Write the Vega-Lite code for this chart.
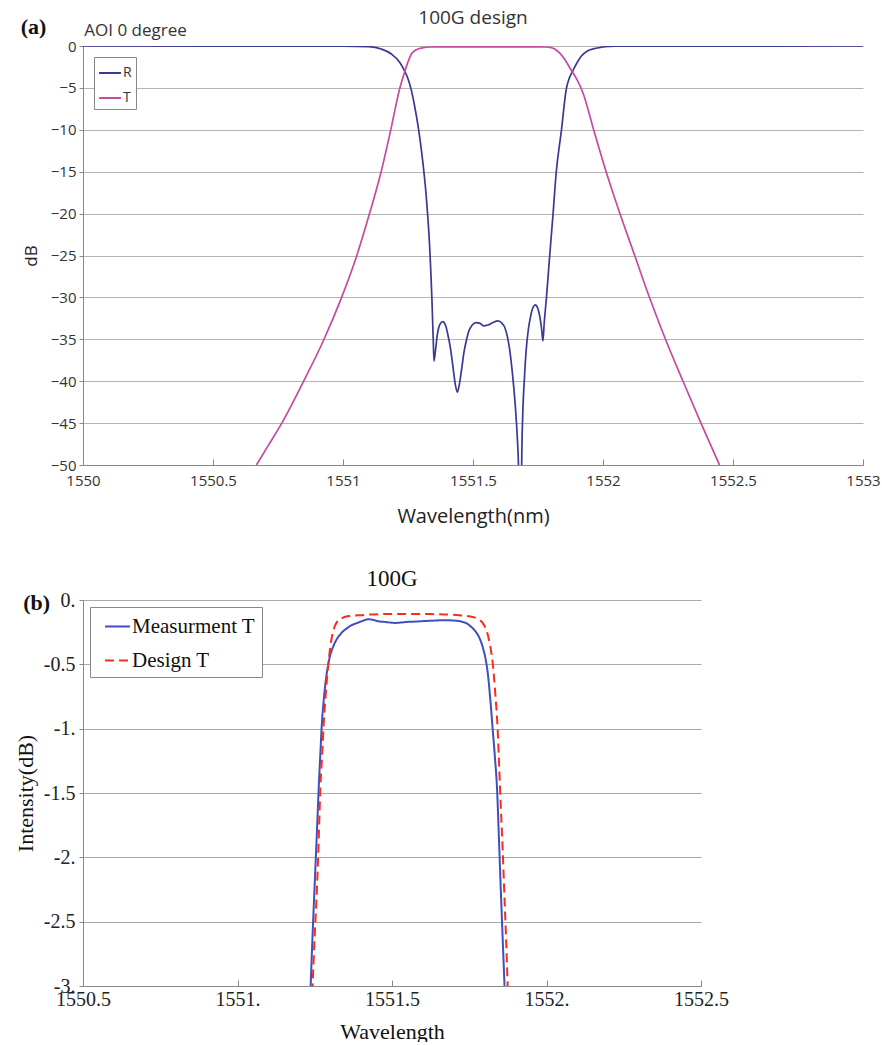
{
  "$schema": "https://vega.github.io/schema/vega-lite/v6.json",
  "background": "white",
  "padding": {"left": 14, "top": 8, "right": 5, "bottom": 0},
  "config": {"view": {"stroke": null}, "concat": {"spacing": 42}},
  "resolve": {"scale": {"color": "independent", "strokeDash": "independent"}},
  "datasets": {
    "a": [
      {"s": "R", "wl": 1550.0, "db": 0},
      {"s": "R", "wl": 1551.0, "db": -0.02},
      {"s": "R", "wl": 1551.1, "db": -0.08},
      {"s": "R", "wl": 1551.147, "db": -0.36},
      {"s": "R", "wl": 1551.186, "db": -0.95},
      {"s": "R", "wl": 1551.218, "db": -1.95},
      {"s": "R", "wl": 1551.237, "db": -3.0},
      {"s": "R", "wl": 1551.25, "db": -3.9},
      {"s": "R", "wl": 1551.263, "db": -5.3},
      {"s": "R", "wl": 1551.275, "db": -7.1},
      {"s": "R", "wl": 1551.289, "db": -9.6},
      {"s": "R", "wl": 1551.301, "db": -12.3},
      {"s": "R", "wl": 1551.32, "db": -17.9},
      {"s": "R", "wl": 1551.333, "db": -23.8},
      {"s": "R", "wl": 1551.342, "db": -30.2},
      {"s": "R", "wl": 1551.347, "db": -35},
      {"s": "R", "wl": 1551.35, "db": -37.6},
      {"s": "R", "wl": 1551.355, "db": -36.5},
      {"s": "R", "wl": 1551.363, "db": -34.4},
      {"s": "R", "wl": 1551.373, "db": -33.2},
      {"s": "R", "wl": 1551.384, "db": -32.9},
      {"s": "R", "wl": 1551.394, "db": -33.3},
      {"s": "R", "wl": 1551.403, "db": -34.4},
      {"s": "R", "wl": 1551.414, "db": -36.2},
      {"s": "R", "wl": 1551.423, "db": -38.3},
      {"s": "R", "wl": 1551.432, "db": -40.4},
      {"s": "R", "wl": 1551.44, "db": -41.3},
      {"s": "R", "wl": 1551.448, "db": -40.3},
      {"s": "R", "wl": 1551.457, "db": -38.4},
      {"s": "R", "wl": 1551.465, "db": -36.6},
      {"s": "R", "wl": 1551.474, "db": -35.2},
      {"s": "R", "wl": 1551.484, "db": -34.0},
      {"s": "R", "wl": 1551.497, "db": -33.3},
      {"s": "R", "wl": 1551.512, "db": -33.0},
      {"s": "R", "wl": 1551.527, "db": -33.1},
      {"s": "R", "wl": 1551.542, "db": -33.4},
      {"s": "R", "wl": 1551.557, "db": -33.3},
      {"s": "R", "wl": 1551.577, "db": -33.0},
      {"s": "R", "wl": 1551.595, "db": -32.8},
      {"s": "R", "wl": 1551.609, "db": -33.0},
      {"s": "R", "wl": 1551.621, "db": -33.5},
      {"s": "R", "wl": 1551.631, "db": -34.5},
      {"s": "R", "wl": 1551.64, "db": -36.0},
      {"s": "R", "wl": 1551.649, "db": -38.3},
      {"s": "R", "wl": 1551.657, "db": -40.8},
      {"s": "R", "wl": 1551.664, "db": -43.5},
      {"s": "R", "wl": 1551.67, "db": -46.5},
      {"s": "R", "wl": 1551.675, "db": -50},
      {"s": "R", "wl": 1551.68, "db": -58},
      {"s": "R", "wl": 1551.685, "db": -55},
      {"s": "R", "wl": 1551.688, "db": -48},
      {"s": "R", "wl": 1551.692, "db": -43.3},
      {"s": "R", "wl": 1551.698, "db": -39.5},
      {"s": "R", "wl": 1551.704, "db": -36.5},
      {"s": "R", "wl": 1551.713, "db": -33.8},
      {"s": "R", "wl": 1551.722, "db": -32.2},
      {"s": "R", "wl": 1551.731, "db": -31.2},
      {"s": "R", "wl": 1551.74, "db": -30.9},
      {"s": "R", "wl": 1551.749, "db": -31.3},
      {"s": "R", "wl": 1551.757, "db": -32.3},
      {"s": "R", "wl": 1551.764, "db": -33.8},
      {"s": "R", "wl": 1551.769, "db": -35.2},
      {"s": "R", "wl": 1551.774, "db": -33.0},
      {"s": "R", "wl": 1551.782, "db": -30.2},
      {"s": "R", "wl": 1551.795, "db": -25},
      {"s": "R", "wl": 1551.808, "db": -20},
      {"s": "R", "wl": 1551.82, "db": -15.1},
      {"s": "R", "wl": 1551.84, "db": -10.1},
      {"s": "R", "wl": 1551.859, "db": -5.1},
      {"s": "R", "wl": 1551.871, "db": -3.8},
      {"s": "R", "wl": 1551.885, "db": -2.9},
      {"s": "R", "wl": 1551.9, "db": -2.0},
      {"s": "R", "wl": 1551.917, "db": -1.2},
      {"s": "R", "wl": 1551.94, "db": -0.6},
      {"s": "R", "wl": 1551.968, "db": -0.3},
      {"s": "R", "wl": 1552.045, "db": -0.03},
      {"s": "R", "wl": 1553.0, "db": 0},
      {"s": "T", "wl": 1550.667, "db": -50},
      {"s": "T", "wl": 1550.714, "db": -47.6},
      {"s": "T", "wl": 1550.763, "db": -45.1},
      {"s": "T", "wl": 1550.847, "db": -40.1},
      {"s": "T", "wl": 1550.924, "db": -35.2},
      {"s": "T", "wl": 1550.992, "db": -30.2},
      {"s": "T", "wl": 1551.051, "db": -25.2},
      {"s": "T", "wl": 1551.102, "db": -20.0},
      {"s": "T", "wl": 1551.146, "db": -15.1},
      {"s": "T", "wl": 1551.183, "db": -10.1},
      {"s": "T", "wl": 1551.218, "db": -5.1},
      {"s": "T", "wl": 1551.237, "db": -3.1},
      {"s": "T", "wl": 1551.25, "db": -1.9},
      {"s": "T", "wl": 1551.263, "db": -0.95},
      {"s": "T", "wl": 1551.28, "db": -0.48},
      {"s": "T", "wl": 1551.301, "db": -0.25},
      {"s": "T", "wl": 1551.34, "db": -0.12},
      {"s": "T", "wl": 1551.45, "db": -0.1},
      {"s": "T", "wl": 1551.72, "db": -0.1},
      {"s": "T", "wl": 1551.78, "db": -0.12},
      {"s": "T", "wl": 1551.8, "db": -0.2},
      {"s": "T", "wl": 1551.814, "db": -0.35},
      {"s": "T", "wl": 1551.832, "db": -0.8},
      {"s": "T", "wl": 1551.852, "db": -1.55},
      {"s": "T", "wl": 1551.878, "db": -2.9},
      {"s": "T", "wl": 1551.9, "db": -4.0},
      {"s": "T", "wl": 1551.923, "db": -5.6},
      {"s": "T", "wl": 1551.965, "db": -10.1},
      {"s": "T", "wl": 1552.013, "db": -15.1},
      {"s": "T", "wl": 1552.065, "db": -20},
      {"s": "T", "wl": 1552.122, "db": -25},
      {"s": "T", "wl": 1552.181, "db": -30.2},
      {"s": "T", "wl": 1552.243, "db": -35.2},
      {"s": "T", "wl": 1552.309, "db": -40.1},
      {"s": "T", "wl": 1552.378, "db": -45.1},
      {"s": "T", "wl": 1552.448, "db": -50}
    ],
    "b": [
      {"s": "Measurment T", "wl": 1551.236, "db": -3.05},
      {"s": "Measurment T", "wl": 1551.243, "db": -2.6},
      {"s": "Measurment T", "wl": 1551.25, "db": -2.2},
      {"s": "Measurment T", "wl": 1551.257, "db": -1.8},
      {"s": "Measurment T", "wl": 1551.263, "db": -1.45},
      {"s": "Measurment T", "wl": 1551.268, "db": -1.2},
      {"s": "Measurment T", "wl": 1551.273, "db": -0.96},
      {"s": "Measurment T", "wl": 1551.279, "db": -0.78},
      {"s": "Measurment T", "wl": 1551.286, "db": -0.62},
      {"s": "Measurment T", "wl": 1551.293, "db": -0.51},
      {"s": "Measurment T", "wl": 1551.3, "db": -0.43},
      {"s": "Measurment T", "wl": 1551.31, "db": -0.36},
      {"s": "Measurment T", "wl": 1551.32, "db": -0.31},
      {"s": "Measurment T", "wl": 1551.335, "db": -0.26},
      {"s": "Measurment T", "wl": 1551.354, "db": -0.22},
      {"s": "Measurment T", "wl": 1551.37, "db": -0.195},
      {"s": "Measurment T", "wl": 1551.391, "db": -0.175},
      {"s": "Measurment T", "wl": 1551.407, "db": -0.16},
      {"s": "Measurment T", "wl": 1551.423, "db": -0.15},
      {"s": "Measurment T", "wl": 1551.44, "db": -0.155},
      {"s": "Measurment T", "wl": 1551.455, "db": -0.165},
      {"s": "Measurment T", "wl": 1551.475, "db": -0.17},
      {"s": "Measurment T", "wl": 1551.493, "db": -0.175},
      {"s": "Measurment T", "wl": 1551.51, "db": -0.178},
      {"s": "Measurment T", "wl": 1551.53, "db": -0.175},
      {"s": "Measurment T", "wl": 1551.55, "db": -0.17},
      {"s": "Measurment T", "wl": 1551.573, "db": -0.168},
      {"s": "Measurment T", "wl": 1551.595, "db": -0.165},
      {"s": "Measurment T", "wl": 1551.616, "db": -0.162},
      {"s": "Measurment T", "wl": 1551.638, "db": -0.16},
      {"s": "Measurment T", "wl": 1551.659, "db": -0.158},
      {"s": "Measurment T", "wl": 1551.68, "db": -0.158},
      {"s": "Measurment T", "wl": 1551.702, "db": -0.16},
      {"s": "Measurment T", "wl": 1551.72, "db": -0.165},
      {"s": "Measurment T", "wl": 1551.74, "db": -0.18},
      {"s": "Measurment T", "wl": 1551.757, "db": -0.21},
      {"s": "Measurment T", "wl": 1551.772, "db": -0.25},
      {"s": "Measurment T", "wl": 1551.784, "db": -0.3},
      {"s": "Measurment T", "wl": 1551.794, "db": -0.37},
      {"s": "Measurment T", "wl": 1551.803, "db": -0.46},
      {"s": "Measurment T", "wl": 1551.81, "db": -0.57},
      {"s": "Measurment T", "wl": 1551.818, "db": -0.77},
      {"s": "Measurment T", "wl": 1551.826, "db": -1.01},
      {"s": "Measurment T", "wl": 1551.833, "db": -1.22},
      {"s": "Measurment T", "wl": 1551.84, "db": -1.47},
      {"s": "Measurment T", "wl": 1551.846, "db": -1.85},
      {"s": "Measurment T", "wl": 1551.852, "db": -2.25},
      {"s": "Measurment T", "wl": 1551.858, "db": -2.62},
      {"s": "Measurment T", "wl": 1551.865, "db": -3.05},
      {"s": "Design T", "wl": 1551.242, "db": -3.05},
      {"s": "Design T", "wl": 1551.25, "db": -2.6},
      {"s": "Design T", "wl": 1551.257, "db": -2.25},
      {"s": "Design T", "wl": 1551.263, "db": -1.85},
      {"s": "Design T", "wl": 1551.268, "db": -1.47},
      {"s": "Design T", "wl": 1551.274, "db": -1.2},
      {"s": "Design T", "wl": 1551.279, "db": -0.96},
      {"s": "Design T", "wl": 1551.286, "db": -0.72},
      {"s": "Design T", "wl": 1551.293, "db": -0.52},
      {"s": "Design T", "wl": 1551.3, "db": -0.37},
      {"s": "Design T", "wl": 1551.306, "db": -0.28},
      {"s": "Design T", "wl": 1551.314, "db": -0.21},
      {"s": "Design T", "wl": 1551.322, "db": -0.17},
      {"s": "Design T", "wl": 1551.335, "db": -0.145},
      {"s": "Design T", "wl": 1551.349, "db": -0.13},
      {"s": "Design T", "wl": 1551.375, "db": -0.122},
      {"s": "Design T", "wl": 1551.402, "db": -0.118},
      {"s": "Design T", "wl": 1551.43, "db": -0.113},
      {"s": "Design T", "wl": 1551.466, "db": -0.11},
      {"s": "Design T", "wl": 1551.5, "db": -0.108},
      {"s": "Design T", "wl": 1551.552, "db": -0.108},
      {"s": "Design T", "wl": 1551.6, "db": -0.108},
      {"s": "Design T", "wl": 1551.638, "db": -0.11},
      {"s": "Design T", "wl": 1551.68, "db": -0.113},
      {"s": "Design T", "wl": 1551.723, "db": -0.12},
      {"s": "Design T", "wl": 1551.75, "db": -0.127},
      {"s": "Design T", "wl": 1551.766, "db": -0.135},
      {"s": "Design T", "wl": 1551.78, "db": -0.15},
      {"s": "Design T", "wl": 1551.794, "db": -0.18},
      {"s": "Design T", "wl": 1551.803, "db": -0.22},
      {"s": "Design T", "wl": 1551.81, "db": -0.27},
      {"s": "Design T", "wl": 1551.818, "db": -0.36},
      {"s": "Design T", "wl": 1551.826, "db": -0.49},
      {"s": "Design T", "wl": 1551.834, "db": -0.72},
      {"s": "Design T", "wl": 1551.842, "db": -1.01},
      {"s": "Design T", "wl": 1551.847, "db": -1.3},
      {"s": "Design T", "wl": 1551.852, "db": -1.6},
      {"s": "Design T", "wl": 1551.858, "db": -1.93},
      {"s": "Design T", "wl": 1551.863, "db": -2.25},
      {"s": "Design T", "wl": 1551.869, "db": -2.62},
      {"s": "Design T", "wl": 1551.875, "db": -3.05}
    ],
    "alab": [
      {"t": "(a)", "wl": 1549.81, "db": 2.27}
    ],
    "aoi": [
      {"t": "AOI 0 degree", "wl": 1550.005, "db": 1.8}
    ],
    "blab": [
      {"t": "(b)", "wl": 1550.35, "db": -0.02}
    ]
  },
  "vconcat": [
    {
      "width": 780,
      "height": 419,
      "title": {"text": "100G design", "font": "Open Sans", "fontSize": 19, "fontWeight": "normal", "color": "#333", "anchor": "middle", "offset": -12},
      "layer": [
        {
          "data": {"name": "a"},
          "mark": {"type": "line", "clip": true, "strokeWidth": 1.7, "interpolate": "monotone"},
          "encoding": {
            "x": {"field": "wl", "type": "quantitative",
              "scale": {"domain": [1550, 1553], "nice": false, "zero": false},
              "axis": {"title": "Wavelength(nm)", "values": [1550, 1550.5, 1551, 1551.5, 1552, 1552.5, 1553], "format": ".1~f",
                "grid": false, "tickSize": -6, "labelPadding": 14, "labelFlush": false, "labelFont": "Open Sans", "labelFontSize": 15, "labelColor": "#333",
                "titleFont": "Open Sans", "titleFontSize": 20, "titleFontWeight": "normal", "titleColor": "#222", "titlePadding": 18,
                "domainColor": "#888", "tickColor": "#888"}},
            "y": {"field": "db", "type": "quantitative",
              "scale": {"domain": [-50, 0], "nice": false},
              "axis": {"title": "dB", "values": [0, -5, -10, -15, -20, -25, -30, -35, -40, -45, -50], "grid": true, "gridColor": "#b4b4b4",
                "tickSize": 4, "labelPadding": 3, "labelFont": "Open Sans", "labelFontSize": 15, "labelColor": "#333",
                "titleFont": "Open Sans", "titleFontSize": 17, "titleFontWeight": "normal", "titleColor": "#222", "titlePadding": 10,
                "domainColor": "#888", "tickColor": "#888"}},
            "color": {"field": "s", "type": "nominal",
              "scale": {"domain": ["R", "T"], "range": ["#3a3996", "#c64aa2"]},
              "legend": {"title": null, "orient": "top-left", "offset": 11, "strokeColor": "#888", "fillColor": "white", "padding": 4,
                "symbolType": "stroke", "symbolSize": 480, "symbolStrokeWidth": 2, "labelFont": "Open Sans", "labelFontSize": 14,
                "labelColor": "#333", "rowPadding": 6, "labelOffset": 1}}
          }
        },
        {
          "data": {"name": "alab"},
          "mark": {"type": "text", "clip": false, "font": "Liberation Serif", "fontSize": 22, "fontWeight": "bold", "align": "center", "baseline": "middle", "color": "#111"},
          "encoding": {
            "x": {"field": "wl", "type": "quantitative", "scale": {"domain": [1550, 1553], "nice": false, "zero": false}},
            "y": {"field": "db", "type": "quantitative", "scale": {"domain": [-50, 0], "nice": false}},
            "text": {"field": "t"}
          }
        },
        {
          "data": {"name": "aoi"},
          "mark": {"type": "text", "clip": false, "font": "Open Sans", "fontSize": 17, "align": "left", "baseline": "middle", "color": "#333"},
          "encoding": {
            "x": {"field": "wl", "type": "quantitative", "scale": {"domain": [1550, 1553], "nice": false, "zero": false}},
            "y": {"field": "db", "type": "quantitative", "scale": {"domain": [-50, 0], "nice": false}},
            "text": {"field": "t"}
          }
        }
      ]
    },
    {
      "width": 618,
      "height": 386,
      "title": {"text": "100G", "font": "Liberation Serif", "fontSize": 23, "fontWeight": "normal", "color": "#111", "anchor": "middle", "offset": -1},
      "layer": [
        {
          "data": {"name": "b"},
          "mark": {"type": "line", "clip": true, "strokeWidth": 2, "interpolate": "monotone"},
          "encoding": {
            "x": {"field": "wl", "type": "quantitative",
              "scale": {"domain": [1550.5, 1552.5], "nice": false, "zero": false},
              "axis": {"title": "Wavelength", "values": [1550.5, 1551, 1551.5, 1552, 1552.5],
                "labelExpr": "datum.value % 1 === 0 ? datum.value + '.' : '' + datum.value",
                "grid": false, "tickSize": -6, "labelPadding": 9, "labelFlush": false, "labelFont": "Liberation Serif", "labelFontSize": 20, "labelColor": "#222",
                "titleFont": "Liberation Serif", "titleFontSize": 22, "titleFontWeight": "normal", "titleColor": "#111", "titlePadding": 12,
                "domainColor": "#888", "tickColor": "#888"}},
            "y": {"field": "db", "type": "quantitative",
              "scale": {"domain": [-3, 0], "nice": false},
              "axis": {"title": "Intensity(dB)", "values": [0, -0.5, -1, -1.5, -2, -2.5, -3],
                "labelExpr": "datum.value % 1 === 0 ? datum.value + '.' : '' + datum.value",
                "grid": true, "gridColor": "#aaaaaa", "tickSize": 4, "labelPadding": 4, "labelFont": "Liberation Serif", "labelFontSize": 20, "labelColor": "#222",
                "titleFont": "Liberation Serif", "titleFontSize": 22, "titleFontWeight": "normal", "titleColor": "#111", "titlePadding": 6,
                "domainColor": "#888", "tickColor": "#888"}},
            "color": {"field": "s", "type": "nominal",
              "scale": {"domain": ["Measurment T", "Design T"], "range": ["#3f4fbf", "#ff2a1a"]},
              "legend": {"title": null, "orient": "top-left", "offset": 7, "strokeColor": "#888", "fillColor": "white", "padding": 6,
                "symbolType": "stroke", "symbolSize": 625, "symbolStrokeWidth": 2, "symbolOffset": 8, "labelFont": "Liberation Serif", "labelFontSize": 21,
                "labelColor": "#111", "rowPadding": 10, "labelOffset": 1}},
            "strokeDash": {"field": "s", "type": "nominal",
              "scale": {"domain": ["Measurment T", "Design T"], "range": [[1, 0], [9, 5]]},
              "legend": {"title": null, "orient": "top-left", "offset": 7, "strokeColor": "#888", "fillColor": "white", "padding": 6,
                "symbolType": "stroke", "symbolSize": 625, "symbolStrokeWidth": 2, "symbolOffset": 8, "labelFont": "Liberation Serif", "labelFontSize": 21,
                "labelColor": "#111", "rowPadding": 10, "labelOffset": 1}}
          }
        },
        {
          "data": {"name": "blab"},
          "mark": {"type": "text", "clip": false, "font": "Liberation Serif", "fontSize": 22, "fontWeight": "bold", "align": "center", "baseline": "middle", "color": "#111"},
          "encoding": {
            "x": {"field": "wl", "type": "quantitative", "scale": {"domain": [1550.5, 1552.5], "nice": false, "zero": false}},
            "y": {"field": "db", "type": "quantitative", "scale": {"domain": [-3, 0], "nice": false}},
            "text": {"field": "t"}
          }
        }
      ]
    }
  ]
}
